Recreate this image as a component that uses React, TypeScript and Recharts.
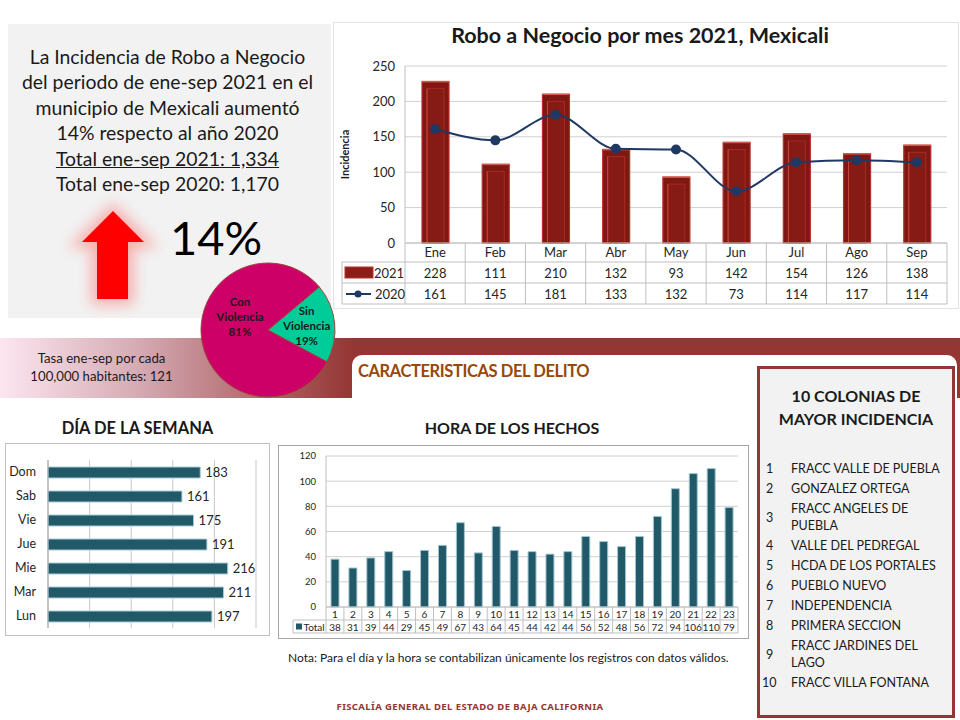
import React from "react";
import {
  ComposedChart,
  BarChart,
  PieChart,
  Pie,
  Cell,
  Bar,
  Line,
  XAxis,
  YAxis,
  CartesianGrid,
  LabelList,
} from "recharts";

// --- data ---
const months = ["Ene", "Feb", "Mar", "Abr", "May", "Jun", "Jul", "Ago", "Sep"];
const robos2021 = [228, 111, 210, 132, 93, 142, 154, 126, 138];
const robos2020 = [161, 145, 181, 133, 132, 73, 114, 117, 114];
const monthTicks = [0, 50, 100, 150, 200, 250];

const dias = ["Dom", "Sab", "Vie", "Jue", "Mie", "Mar", "Lun"];
const diasTotal = [183, 161, 175, 191, 216, 211, 197];
const diaTicks = [0, 50, 100, 150, 200, 250];

const horas = ["1", "2", "3", "4", "5", "6", "7", "8", "9", "10", "11", "12", "13", "14", "15", "16", "17", "18", "19", "20", "21", "22", "23"];
const horasTotal = [38, 31, 39, 44, 29, 45, 49, 67, 43, 64, 45, 44, 42, 44, 56, 52, 48, 56, 72, 94, 106, 110, 79];
const horaTicks = [0, 20, 40, 60, 80, 100, 120];

const violenciaNames = ["Sin Violencia", "Con Violencia"];
const violenciaPct = [19, 81];
const violenciaColors = ["#00cc99", "#cc0066"];

const colonias = [
  "FRACC VALLE DE PUEBLA",
  "GONZALEZ ORTEGA",
  "FRACC ANGELES DE\nPUEBLA",
  "VALLE DEL PEDREGAL",
  "HCDA DE LOS PORTALES",
  "PUEBLO NUEVO",
  "INDEPENDENCIA",
  "PRIMERA SECCION",
  "FRACC JARDINES DEL\nLAGO",
  "FRACC VILLA FONTANA",
];

const summaryLines = [
  "La Incidencia de Robo a Negocio",
  "del periodo de ene-sep 2021 en el",
  "municipio de Mexicali aumentó",
  "14% respecto al año 2020",
  "Total ene-sep 2021: 1,334",
  "Total ene-sep 2020: 1,170",
];

const monthData = months.map((m, i) => ({ mes: m, v2021: robos2021[i], v2020: robos2020[i] }));
const dayData = dias.map((d, i) => ({ dia: d, total: diasTotal[i] }));
const hourData = horas.map((h, i) => ({ hora: h, total: horasTotal[i] }));
const pieData = violenciaNames.map((n, i) => ({ name: n, value: violenciaPct[i] }));

const FONT = "Lato, 'Open Sans', sans-serif";
const RED = "#8c1d18";
const NAVY = "#1f3864";
const TEAL = "#215968";
const GRID = "#bfbfbf";

// monthly chart geometry
const MC = { w: 622, h: 290, top: 46, right: 10, bottom: 6, yW: 70, xH: 61, left: 335 };
const MC_PB = MC.h - MC.bottom - MC.xH;
const MC_BW = (MC.w - MC.right - MC.yW) / months.length;

function BevelBar(props: any) {
  const { x, y, width, height } = props;
  if (!height || height <= 0) return null;
  return (
    <g>
      <rect x={x} y={y} width={width} height={height} fill="#7d1813" stroke="#b8302a" strokeWidth={1.2} />
      <rect x={x + 5} y={y + 7} width={width - 10} height={height - 7} fill="#861a14" stroke="#a82a22" strokeWidth={1} />
      <line x1={x + 5} y1={y + 7} x2={x + 5} y2={y + height} stroke="#c4453c" strokeWidth={1} />
      <line x1={x} y1={y} x2={x + width} y2={y} stroke="#d05a4e" strokeWidth={1.5} />
    </g>
  );
}

function MonthTick(props: any) {
  const { x, index } = props;
  const pb = MC_PB;
  const bw = MC_BW;
  const l = x - bw / 2;
  const r = x + bw / 2;
  const legL = 342 - MC.left;
  return (
    <g fontFamily={FONT} fontSize={13} fill="#262626">
      <line x1={r} y1={pb} x2={r} y2={pb + 61} stroke={GRID} />
      <line x1={l} y1={pb + 19} x2={r} y2={pb + 19} stroke={GRID} />
      <line x1={l} y1={pb + 40} x2={r} y2={pb + 40} stroke={GRID} />
      <line x1={l} y1={pb + 61} x2={r} y2={pb + 61} stroke={GRID} />
      <text x={x} y={pb + 14} textAnchor="middle">{months[index]}</text>
      <text x={x} y={pb + 35} textAnchor="middle">{robos2021[index]}</text>
      <text x={x} y={pb + 56} textAnchor="middle">{robos2020[index]}</text>
      {index === 0 && (
        <g>
          <line x1={l} y1={pb} x2={l} y2={pb + 61} stroke={GRID} />
          <line x1={legL} y1={pb + 19} x2={l} y2={pb + 19} stroke={GRID} />
          <line x1={legL} y1={pb + 40} x2={l} y2={pb + 40} stroke={GRID} />
          <line x1={legL} y1={pb + 61} x2={l} y2={pb + 61} stroke={GRID} />
          <line x1={legL} y1={pb + 19} x2={legL} y2={pb + 61} stroke={GRID} />
          <rect x={legL + 3} y={pb + 24} width={28} height={11} fill={RED} stroke="#b8302a" />
          <text x={legL + 32} y={pb + 35}>2021</text>
          <line x1={legL + 4} y1={pb + 51} x2={legL + 29} y2={pb + 51} stroke={NAVY} strokeWidth={2} />
          <circle cx={legL + 16} cy={pb + 51} r={3.5} fill={NAVY} />
          <text x={legL + 33} y={pb + 56}>2020</text>
        </g>
      )}
    </g>
  );
}

// hourly chart geometry
const HC = { w: 470, h: 193, top: 11, right: 10, bottom: 5, yW: 48, xH: 26, left: 278 };
const HC_PB = HC.h - HC.bottom - HC.xH;
const HC_BW = (HC.w - HC.right - HC.yW) / horas.length;

function HourTick(props: any) {
  const { x, index } = props;
  const pb = HC_PB;
  const l = x - HC_BW / 2;
  const r = x + HC_BW / 2;
  const legL = 293 - HC.left;
  return (
    <g fontFamily={FONT} fontSize={10} fill="#262626">
      <line x1={r} y1={pb} x2={r} y2={pb + 26} stroke={GRID} />
      <line x1={l} y1={pb + 13} x2={r} y2={pb + 13} stroke={GRID} />
      <line x1={l} y1={pb + 26} x2={r} y2={pb + 26} stroke={GRID} />
      <text x={x} y={pb + 10.5} textAnchor="middle">{horas[index]}</text>
      <text x={x} y={pb + 23.5} textAnchor="middle">{horasTotal[index]}</text>
      {index === 0 && (
        <g>
          <line x1={l} y1={pb} x2={l} y2={pb + 26} stroke={GRID} />
          <line x1={legL} y1={pb + 13} x2={l} y2={pb + 13} stroke={GRID} />
          <line x1={legL} y1={pb + 26} x2={l} y2={pb + 26} stroke={GRID} />
          <line x1={legL} y1={pb + 13} x2={legL} y2={pb + 26} stroke={GRID} />
          <rect x={legL + 3} y={pb + 16.5} width={6} height={6} fill={TEAL} />
          <text x={legL + 10.5} y={pb + 23.5}>Total</text>
        </g>
      )}
    </g>
  );
}

const RAD = Math.PI / 180;
function pieLabel(props: any) {
  const { cx, cy, midAngle, outerRadius, index, name, value } = props;
  const r = outerRadius * (index === 0 ? 0.58 : 0.42);
  const x = cx + r * Math.cos(-midAngle * RAD);
  const y = cy + r * Math.sin(-midAngle * RAD) + (index === 0 ? 0 : -16);
  const words = String(name).split(" ");
  return (
    <text x={x} y={y} textAnchor="middle" fontFamily={FONT} fontSize={11.5} fontWeight={700} fill="#1a1a1a">
      <tspan x={x} y={y - 11}>{words[0]}</tspan>
      <tspan x={x} y={y + 4}>{words[1]}</tspan>
      <tspan x={x} y={y + 19}>{`${value}%`}</tspan>
    </text>
  );
}

const abs = (left: number, top: number, extra: React.CSSProperties = {}): React.CSSProperties => ({
  position: "absolute",
  left,
  top,
  ...extra,
});

export default function App() {
  return (
    <div style={{ position: "absolute", left: 0, top: 0, width: 960, height: 720, background: "#fff", fontFamily: FONT, overflow: "hidden" }}>
      {/* summary box */}
      <div style={abs(8, 24, { width: 323, height: 294, background: "#f2f2f2" })} />
      <div style={abs(6, 44, { width: 323, textAlign: "center", fontSize: 19.4, lineHeight: "25.4px", color: "#1a1a1a", whiteSpace: "nowrap" })}>
        {summaryLines.map((t, i) => (
          <div key={i} style={{ textDecoration: i === 4 ? "underline" : "none" }}>{t}</div>
        ))}
      </div>
      <svg style={abs(55, 190)} width={110} height={130}>
        <defs>
          <filter id="glow" x="-50%" y="-50%" width="200%" height="200%">
            <feGaussianBlur stdDeviation="7" />
          </filter>
        </defs>
        <polygon points="58,21 27,52 42,52 42,109 73,109 73,52 89,52" fill="#ff3030" stroke="#ff5050" strokeWidth={12} opacity={0.4} filter="url(#glow)" />
        <polygon points="58,21 27,52 42,52 42,109 73,109 73,52 89,52" fill="#ff0000" />
      </svg>
      <div style={abs(170, 207, { fontSize: 47, color: "#000", lineHeight: "60px" })}>14%</div>

      {/* band */}
      <div style={abs(0, 338, { width: 960, height: 60, background: "#943634" })} />
      <div style={abs(0, 338, { width: 352, height: 60, background: "linear-gradient(90deg, #fce6f0 0%, #d4a9b2 40%, #943634 100%)" })} />
      <div style={abs(352, 355, { width: 605, height: 380, background: "#fff", borderRadius: 10 })} />
      <div style={abs(0, 349, { width: 203, textAlign: "center", fontSize: 13.2, lineHeight: "18px", color: "#1a1a1a" })}>
        <div>Tasa ene-sep por cada</div>
        <div>100,000 habitantes: 121</div>
      </div>
      <div style={abs(358, 361, { fontSize: 16.5, fontWeight: 700, color: "#984807", letterSpacing: -0.4 })}>CARACTERISTICAS DEL DELITO</div>

      {/* pie */}
      <div style={abs(190, 252)}>
        <PieChart width={146} height={146}>
          <Pie
            data={pieData}
            dataKey="value"
            nameKey="name"
            cx={73}
            cy={73}
            outerRadius={67}
            startAngle={40}
            endAngle={-320}
            stroke="#9a4a3a"
            strokeWidth={1}
            label={pieLabel}
            labelLine={false}
            isAnimationActive={false}
          >
            {pieData.map((d, i) => (
              <Cell key={d.name} fill={violenciaColors[i]} />
            ))}
          </Pie>
        </PieChart>
      </div>

      {/* monthly chart */}
      <div style={abs(333, 22, { width: 624, height: 285, border: "1px solid #e3e3e3" })} />
      <div style={abs(335, 22, { width: 610, textAlign: "center", fontSize: 21.5, fontWeight: 700, color: "#1a1a1a" })}>
        Robo a Negocio por mes 2021, Mexicali
      </div>
      <div style={abs(MC.left, 20)}>
        <ComposedChart width={MC.w} height={MC.h} data={monthData} margin={{ top: MC.top, right: MC.right, left: 0, bottom: MC.bottom }}>
          <CartesianGrid vertical={false} stroke="#d0d0d0" />
          <XAxis dataKey="mes" interval={0} height={MC.xH} axisLine={{ stroke: GRID }} tickLine={false} tick={<MonthTick />} />
          <YAxis
            domain={[0, 250]}
            ticks={monthTicks}
            width={MC.yW}
            axisLine={{ stroke: GRID }}
            tickLine={false}
            tickMargin={4}
            tick={{ fontSize: 13, fill: "#262626", fontFamily: FONT }}
            label={{ value: "Incidencia", angle: -90, position: "insideLeft", offset: 10, style: { fontSize: 11, fontWeight: 700, fill: "#1a1a1a", fontFamily: FONT, textAnchor: "middle" } }}
          />
          <Bar dataKey="v2021" barSize={27} shape={<BevelBar />} isAnimationActive={false} />
          <Line type="monotone" dataKey="v2020" stroke={NAVY} strokeWidth={2} dot={{ r: 4, fill: NAVY, stroke: NAVY }} isAnimationActive={false} />
        </ComposedChart>
      </div>

      {/* day of week */}
      <div style={abs(5, 418, { width: 265, textAlign: "center", fontSize: 16.5, fontWeight: 700, color: "#1a1a1a" })}>DÍA DE LA SEMANA</div>
      <div style={abs(5, 443, { width: 263, height: 191, border: "1px solid #bfbfbf" })} />
      <div style={abs(5, 443)}>
        <BarChart layout="vertical" width={265} height={193} data={dayData} margin={{ top: 17, right: 14, left: 0, bottom: 8 }} barSize={11}>
          <CartesianGrid horizontal={false} stroke="#c8c8c8" />
          <XAxis type="number" domain={[0, 250]} ticks={diaTicks} hide />
          <YAxis type="category" dataKey="dia" width={43} axisLine={{ stroke: "#a6a6a6" }} tickLine={false} tickMargin={6} tick={{ fontSize: 12.5, fill: "#262626", fontFamily: FONT }} />
          <Bar dataKey="total" fill={TEAL} stroke="#a9ccd4" strokeWidth={1} isAnimationActive={false}>
            <LabelList dataKey="total" position="right" offset={5} style={{ fontSize: 13, fill: "#262626", fontFamily: FONT }} />
          </Bar>
        </BarChart>
      </div>

      {/* hour */}
      <div style={abs(277, 418, { width: 470, textAlign: "center", fontSize: 16, fontWeight: 700, color: "#1a1a1a" })}>HORA DE LOS HECHOS</div>
      <div style={abs(278, 445, { width: 469, height: 192, border: "1px solid #a6a6a6" })} />
      <div style={abs(HC.left, 445)}>
        <BarChart width={HC.w} height={HC.h} data={hourData} margin={{ top: HC.top, right: HC.right, left: 0, bottom: HC.bottom }} barSize={8}>
          <CartesianGrid vertical={false} stroke="#d0d0d0" />
          <XAxis dataKey="hora" interval={0} height={HC.xH} axisLine={{ stroke: GRID }} tickLine={false} tick={<HourTick />} />
          <YAxis domain={[0, 120]} ticks={horaTicks} width={HC.yW} axisLine={{ stroke: GRID }} tickLine={false} tickMargin={4} tick={{ fontSize: 9.5, fill: "#262626", fontFamily: FONT }} />
          <Bar dataKey="total" fill={TEAL} stroke="#9fc6d2" strokeWidth={1} isAnimationActive={false} />
        </BarChart>
      </div>
      <div style={abs(288, 650, { fontSize: 12, color: "#1a1a1a", whiteSpace: "nowrap" })}>
        Nota: Para el día y la hora se contabilizan únicamente los registros con datos válidos.
      </div>

      {/* colonias */}
      <div style={abs(757, 366, { width: 192, height: 346, background: "#f2f2f2", border: "3px solid #943634" })}>
        <div style={{ textAlign: "center", fontSize: 16, fontWeight: 700, lineHeight: "23px", marginTop: 15, color: "#1a1a1a" }}>
          <div>10 COLONIAS DE</div>
          <div>MAYOR INCIDENCIA</div>
        </div>
        <div style={{ marginTop: 30, fontSize: 12.5, lineHeight: "17px", color: "#1a1a1a" }}>
          {colonias.map((c, i) => (
            <div key={i} style={{ display: "flex", alignItems: "center", marginBottom: 3 }}>
              <div style={{ width: 31, paddingLeft: i === 9 ? 2 : 6, boxSizing: "border-box" }}>{i + 1}</div>
              <div style={{ whiteSpace: "pre" }}>{c}</div>
            </div>
          ))}
        </div>
      </div>

      {/* footer */}
      <div style={abs(0, 700, { width: 940, textAlign: "center", fontSize: 9.5, fontWeight: 700, color: "#943634", letterSpacing: 0.4, fontFamily: "'Noto Sans', sans-serif" })}>
        FISCALÍA GENERAL DEL ESTADO DE BAJA CALIFORNIA
      </div>
    </div>
  );
}
